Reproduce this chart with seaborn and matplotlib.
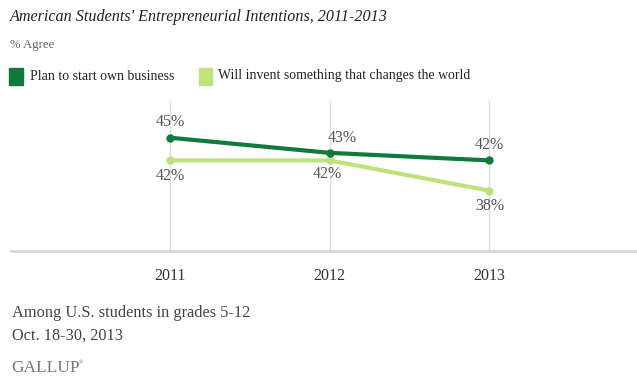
import matplotlib
matplotlib.use("Agg")
import matplotlib.pyplot as plt
import seaborn as sns
import pandas as pd
from matplotlib.patches import Rectangle

years = [2011, 2012, 2013]
year_labels = ["2011", "2012", "2013"]
series_names = ["Plan to start own business", "Will invent something that changes the world"]
plan_business = [45, 43, 42]
invent_world = [42, 42, 38]
colors = ["#0f7a3c", "#bfe27c"]

sns.set_theme(style="white")
plt.rcParams["font.family"] = ["Liberation Serif", "DejaVu Serif"]

df = pd.DataFrame({
    "year": years * 2,
    "value": plan_business + invent_world,
    "series": [series_names[0]] * 3 + [series_names[1]] * 3,
})

W, H = 637, 381
fig = plt.figure(figsize=(W / 100, H / 100), dpi=100)
ax = fig.add_axes([11 / W, 1 - 251 / H, 1 - 11 / W, 151 / H])

for x in years:
    ax.axvline(x, color="#dcdcdc", lw=1, zorder=0)

# draw light first so dark is on top
sns.lineplot(data=df[df.series == series_names[1]], x="year", y="value",
             color=colors[1], lw=3, marker="o", markersize=6,
             markeredgewidth=0, ax=ax, legend=False, zorder=3)
sns.lineplot(data=df[df.series == series_names[0]], x="year", y="value",
             color=colors[0], lw=3, marker="o", markersize=6,
             markeredgewidth=0, ax=ax, legend=False, zorder=4)

ax.set_xlim(2010.0, 2013.93)
ax.set_ylim(30, 50)

for s in ["top", "right", "left"]:
    ax.spines[s].set_visible(False)
ax.spines["bottom"].set_color("#d8d8d8")
ax.spines["bottom"].set_linewidth(2)
ax.set_yticks([])
ax.set_xticks(years)
ax.set_xticklabels(year_labels, fontsize=11.5, color="#333333")
ax.tick_params(axis="x", length=0, pad=12)
ax.set_xlabel("")
ax.set_ylabel("")

lab_kw = dict(fontsize=11.5, color="#555555", ha="center", va="center")
offsets_dark = [(0, 16), (13, 15), (1, 15)]
for x, v, (dx, dy) in zip(years, plan_business, offsets_dark):
    ax.annotate(f"{v}%", (x, v), xytext=(dx, dy), textcoords="offset pixels", **lab_kw)
offsets_light = [(0, -16), (-2, -14), (1, -15)]
for x, v, (dx, dy) in zip(years, invent_world, offsets_light):
    ax.annotate(f"{v}%", (x, v), xytext=(dx, dy), textcoords="offset pixels", **lab_kw)

# title & subtitle
fig.text(10 / W, 1 - 17 / H, "American Students' Entrepreneurial Intentions, 2011-2013",
         fontsize=11.6, style="italic", color="#222222", va="center", ha="left")
fig.text(10 / W, 1 - 45 / H, "% Agree", fontsize=9.2, color="#666666", va="center", ha="left")

# legend
fig.patches.append(Rectangle((9 / W, 1 - 85 / H), 14 / W, 17 / H,
                             transform=fig.transFigure, color=colors[0]))
fig.text(30 / W, 1 - 76 / H, series_names[0], fontsize=10, color="#222222", va="center")
fig.patches.append(Rectangle((199 / W, 1 - 85 / H), 13 / W, 17 / H,
                             transform=fig.transFigure, color=colors[1]))
fig.text(218 / W, 1 - 76 / H, series_names[1], fontsize=9.9, color="#222222", va="center")

# footer
fig.text(12 / W, 1 - 313 / H, "Among U.S. students in grades 5-12", fontsize=11.8,
         color="#444444", va="center")
fig.text(12 / W, 1 - 336 / H, "Oct. 18-30, 2013", fontsize=11.7, color="#444444", va="center")
fig.text(11 / W, 1 - 368 / H, "GALLUP", fontsize=12.5, color="#777777", va="center")
fig.text(79 / W, 1 - 363 / H, "\u00ae", fontsize=4, color="#777777", va="center")

fig.savefig("out.png", dpi=100)
